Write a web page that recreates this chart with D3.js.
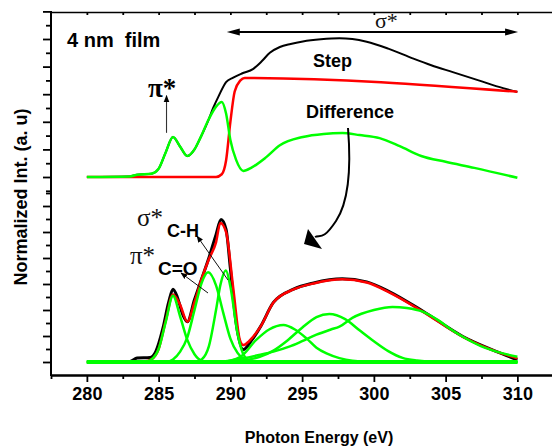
<!DOCTYPE html>
<html>
<head>
<meta charset="utf-8">
<script src="https://cdn.jsdelivr.net/npm/d3@7"></script>
<style>
  body { margin: 0; background: #fff; }
  svg { display: block; font-family: "Liberation Sans", Arial, sans-serif; }
</style>
</head>
<body>
<div id="chart"></div>
<script>
// ---- top panel: step-edge decomposition (1 unit = one major tick) ----
const stepE = [280, 289.0, 289.4, 289.7, 290.0, 290.3, 290.7, 291.0, 310];
const stepV = [0, 0, 0.1, 0.6, 2.0, 3.1, 3.5, 3.59, 3.09];

const diffE = [280, 283, 283.5, 284.5, 285, 285.5, 286, 286.5, 287, 287.5, 287.9, 288.5, 289.0, 289.4,
               289.7, 290.0, 290.4, 290.9, 291.5, 292.5, 293.45, 295.05, 296.5, 297.8, 299, 300.4,
               301.8, 303.3, 305, 307, 310];
const diffV = [0, 0.02, 0.08, 0.12, 0.3, 0.9, 1.45, 1.1, 0.76, 1.0, 1.41, 2.1, 2.55, 2.72,
               2.3, 1.34, 0.62, 0.22, 0.35, 0.72, 1.15, 1.45, 1.56, 1.59, 1.52, 1.41,
               1.12, 0.76, 0.55, 0.33, -0.03];

const rawE = [280, 283, 283.5, 284.5, 285, 285.5, 286, 286.5, 287, 287.5, 287.9, 288.5, 288.8, 289.2,
              289.7, 290.2, 290.8, 291.6, 292.2, 292.75, 293.45, 294.2, 295.05, 296.3, 297.6, 298.5,
              299.5, 301, 302.7, 304, 305.5, 307.3, 309, 310];
const rawV = [0, 0.02, 0.08, 0.12, 0.3, 0.9, 1.45, 1.1, 0.76, 1.0, 1.41, 2.1, 2.5, 2.95,
              3.44, 3.6, 3.75, 3.92, 4.2, 4.5, 4.71, 4.82, 4.91, 4.99, 5.03, 5.0,
              4.9, 4.65, 4.3, 4.05, 3.8, 3.5, 3.22, 3.08];

// ---- bottom panel: peak fit of the difference spectrum ----
const measE = [280, 283, 283.5, 284.4, 284.8, 285.3, 285.7, 286.0, 286.3, 286.7, 287.0, 287.5, 288.0,
               288.5, 289.0, 289.35, 289.7, 290.0, 290.4, 290.9, 291.5, 292.1, 293.0, 294.4, 295.8,
               297.8, 299.5, 301.1, 303.4, 306.2, 308.6, 310];
const measV = [0, 0.02, 0.15, 0.17, 0.4, 1.3, 2.3, 2.8, 2.5, 1.8, 1.55, 2.4, 3.2,
               4.0, 4.9, 5.48, 5.1, 3.6, 1.5, 0.48, 0.85, 1.36, 2.29, 2.8, 3.04,
               3.2, 3.08, 2.7, 1.96, 0.98, 0.39, 0.08];

const fitE = [280, 284, 284.5, 285, 285.5, 286, 286.5, 287, 287.5, 288, 288.5, 289, 289.3, 289.7,
              290.2, 290.66, 290.9, 291.3, 292.1, 293.0, 294.4, 295.8, 297.8, 299.5, 301.1, 303.4,
              306.2, 308.6, 310];
const fitV = [0, 0.02, 0.1, 0.5, 1.6, 2.6, 2.2, 1.55, 2.3, 3.2, 3.95, 4.6, 5.35, 5.0,
              2.84, 0.85, 0.65, 0.8, 1.36, 2.29, 2.79, 3.02, 3.18, 3.06, 2.67, 1.94,
              0.97, 0.39, 0.14];

const piCCE = [280, 284, 284.5, 285, 285.5, 286, 286.5, 287, 287.5, 288, 288.5, 310];
const piCCV = [0, 0, 0.1, 0.5, 1.55, 2.55, 1.75, 0.85, 0.3, 0.05, 0, 0];

const piCOE = [280, 285.5, 286, 286.5, 287, 287.5, 288, 288.45, 289, 289.5, 290, 290.5, 291, 291.5, 310];
const piCOV = [0, 0, 0.1, 0.4, 0.95, 2.0, 3.05, 3.45, 2.95, 1.9, 0.9, 0.35, 0.08, 0, 0];

const sigCHE = [280, 287.5, 288.0, 288.5, 289.0, 289.3, 289.69, 290.0, 290.5, 291.0, 291.5, 310];
const sigCHV = [0, 0, 0.1, 0.6, 2.0, 2.95, 3.52, 2.9, 1.1, 0.2, 0.02, 0];

const sig1E = [280, 289.5, 290.7, 291.8, 292.7, 293.7, 294.5, 295.3, 296, 296.7, 297.6, 298.5, 300, 310];
const sig1V = [0, 0.02, 0.2, 0.85, 1.25, 1.42, 1.25, 0.91, 0.55, 0.33, 0.15, 0.05, 0, 0];

const sig2E = [280, 290, 291, 292, 293, 294, 295, 296, 296.9, 298, 299, 300, 301, 302, 303, 304, 310];
const sig2V = [0, 0.02, 0.07, 0.19, 0.44, 0.84, 1.32, 1.73, 1.85, 1.65, 1.22, 0.8, 0.42, 0.16, 0.06, 0.02, 0];

const sig3E = [280, 289, 290, 291, 292, 293, 294.1, 295, 296, 297, 297.6, 298.5, 300, 301.3, 302.3,
               303.4, 304.5, 305.3, 306.2, 307.5, 308.6, 310];
const sig3V = [0, 0.01, 0.05, 0.15, 0.27, 0.4, 0.59, 0.8, 1.05, 1.25, 1.36, 1.7, 2.0, 2.12, 2.08,
               1.94, 1.6, 1.28, 0.97, 0.6, 0.39, 0.2];

const baseE = [280, 310];
const baseV = [0, 0];

// ---- axes ----
const xMajor = [280, 285, 290, 295, 300, 305, 310];
const xMinor = [277.5, 282.5, 287.5, 292.5, 297.5, 302.5, 307.5];
const xTop = d3.range(280, 310.01, 2.5);
const topMajor = [0, 1, 2, 3, 4, 5, 6];
const topMinor = [-0.5, 0.5, 1.5, 2.5, 3.5, 4.5, 5.5];
const botMajor = [0, 1, 2, 3, 4, 5, 6];
const botMinor = [0.5, 1.5, 2.5, 3.5, 4.5, 5.5, 6.5];

const width = 552, height = 448;
const GREEN = '#00ff00', RED = '#ff0000', BLACK = '#000';

const svg = d3.select('#chart').append('svg')
    .attr('width', width)
    .attr('height', height);

const x = d3.scaleLinear().domain([277.5, 312.5]).range([51, 553.25]);
const yTop = d3.scaleLinear().domain([0, 6]).range([177, 11.4]);
const yBot = d3.scaleLinear().domain([0, 6]).range([362, 206]);

const lineTop = d3.line().x(d => x(d[0])).y(d => yTop(d[1])).curve(d3.curveMonotoneX);
const lineBot = d3.line().x(d => x(d[0])).y(d => yBot(d[1])).curve(d3.curveMonotoneX);

function draw(line, e, v, color, w) {
    svg.append('path')
        .datum(d3.zip(e, v))
        .attr('d', line)
        .attr('fill', 'none')
        .attr('stroke', color)
        .attr('stroke-width', w)
        .attr('stroke-linejoin', 'round');
}

// top panel
draw(lineTop, rawE, rawV, BLACK, 2);
draw(lineTop, stepE, stepV, RED, 2.5);
draw(lineTop, diffE, diffV, GREEN, 2.5);

// bottom panel
draw(lineBot, measE, measV, BLACK, 3);
draw(lineBot, fitE, fitV, RED, 2.5);
draw(lineBot, baseE, baseV, GREEN, 4);
[[piCCE, piCCV], [piCOE, piCOV], [sigCHE, sigCHV], [sig1E, sig1V], [sig2E, sig2V], [sig3E, sig3V]]
    .forEach(([e, v]) => draw(lineBot, e, v, GREEN, 2.5));

// axes
const axisStyle = g => {
    g.selectAll('line').attr('stroke', BLACK).attr('stroke-width', 1.8);
    g.selectAll('.domain').attr('stroke', BLACK).attr('stroke-width', 2);
    g.selectAll('text').attr('fill', BLACK).attr('font-size', 18).attr('font-weight', 'bold')
        .attr('font-family', '"Liberation Sans", Arial, sans-serif');
};

svg.append('g')
    .attr('transform', 'translate(0,375)')
    .call(d3.axisBottom(x).tickValues(xMajor).tickSize(7).tickSizeOuter(0).tickPadding(5).tickFormat(d3.format('d')))
    .call(axisStyle);
svg.append('g')
    .attr('transform', 'translate(0,375)')
    .call(d3.axisBottom(x).tickValues(xMinor).tickSize(4).tickSizeOuter(0).tickFormat(''))
    .call(axisStyle);

svg.append('g')
    .attr('transform', 'translate(0,12)')
    .call(d3.axisBottom(x).tickValues(xTop).tickSize(3).tickSizeOuter(0).tickFormat(''))
    .call(axisStyle)
    .call(g => g.select('.domain').attr('stroke-width', 1.6));

svg.append('line')
    .attr('x1', 51).attr('x2', 51).attr('y1', 11).attr('y2', 376)
    .attr('stroke', BLACK).attr('stroke-width', 2);

[[yTop, topMajor, 8], [yTop, topMinor, 5], [yBot, botMajor, 8], [yBot, botMinor, 5]].forEach(([s, vals, len]) => {
    svg.append('g')
        .attr('transform', 'translate(51,0)')
        .call(d3.axisLeft(s).tickValues(vals).tickSize(len).tickFormat(''))
        .call(axisStyle)
        .call(g => g.select('.domain').remove());
});

// axis titles
svg.append('text')
    .attr('x', 319).attr('y', 443)
    .attr('text-anchor', 'middle')
    .attr('font-size', 16).attr('font-weight', 'bold')
    .text('Photon Energy (eV)');

svg.append('text')
    .attr('transform', 'translate(27,197) rotate(-90)')
    .attr('text-anchor', 'middle')
    .attr('font-size', 18).attr('font-weight', 'bold')
    .text('Normalized Int. (a. u)');

// labels
svg.append('text')
    .attr('x', 67).attr('y', 47)
    .attr('font-size', 20).attr('font-weight', 'bold')
    .style('white-space', 'pre')
    .text('4 nm  film');

svg.append('text')
    .attr('x', 313).attr('y', 67)
    .attr('font-size', 18).attr('font-weight', 'bold')
    .text('Step');

svg.append('text')
    .attr('x', 306).attr('y', 118)
    .attr('font-size', 18).attr('font-weight', 'bold')
    .text('Difference');

const serif = '"Liberation Serif", "DejaVu Serif", serif';

svg.append('text')
    .attr('x', 148).attr('y', 97)
    .attr('font-family', serif).attr('font-size', 27).attr('font-weight', 'bold')
    .text('π*');

svg.append('text')
    .attr('x', 375).attr('y', 28)
    .attr('font-family', serif).attr('font-size', 22).attr('fill', '#111')
    .text('σ*');

const lblCH = svg.append('text').attr('x', 137).attr('y', 226);
lblCH.append('tspan').attr('font-family', serif).attr('font-size', 25).attr('fill', '#111').text('σ*');
lblCH.append('tspan').attr('x', 167).attr('y', 237).attr('font-size', 18).attr('font-weight', 'bold').text('C-H');

const lblCO = svg.append('text').attr('x', 130).attr('y', 264);
lblCO.append('tspan').attr('font-family', serif).attr('font-size', 25).attr('fill', '#111').text('π*');
lblCO.append('tspan').attr('x', 158).attr('y', 275).attr('font-size', 19).attr('font-weight', 'bold').text('C=O');

// arrows
const defs = svg.append('defs');
defs.append('marker')
    .attr('id', 'head-small')
    .attr('viewBox', '0 0 10 10')
    .attr('refX', 9).attr('refY', 5)
    .attr('markerWidth', 7).attr('markerHeight', 7)
    .attr('markerUnits', 'userSpaceOnUse')
    .attr('orient', 'auto')
    .append('path')
    .attr('d', 'M0,1 L10,5 L0,9 Z')
    .attr('fill', BLACK);

const arrow = (x1, y1, x2, y2, color, w) => svg.append('line')
    .attr('x1', x1).attr('y1', y1).attr('x2', x2).attr('y2', y2)
    .attr('stroke', color).attr('stroke-width', w)
    .attr('marker-end', 'url(#head-small)');

arrow(x(285.55), yTop(1.6), x(285.55), yTop(2.95), '#333', 1.1);
arrow(228, 280, 197, 236, '#111', 1);
arrow(208, 293, 181, 273, '#111', 1);

// sigma* range double arrow
const ya = 32, xl = x(289.75), xr = x(310.05);
svg.append('line')
    .attr('x1', xl + 8).attr('x2', xr - 8).attr('y1', ya).attr('y2', ya)
    .attr('stroke', BLACK).attr('stroke-width', 1.8);
svg.append('path')
    .attr('d', `M${xl},${ya} L${xl + 13},${ya - 3.5} L${xl + 13},${ya + 3.5} Z M${xr},${ya} L${xr - 13},${ya - 3.5} L${xr - 13},${ya + 3.5} Z`)
    .attr('fill', BLACK);

// curved arrow from Difference down to the fit
svg.append('path')
    .attr('d', 'M348,128 C351,165 350,200 336,221 S320,234 315,237')
    .attr('fill', 'none').attr('stroke', BLACK).attr('stroke-width', 2);
svg.append('path')
    .attr('d', 'M304,244 L308,229 L322,249 Z')
    .attr('fill', BLACK);
</script>
</body>
</html>
